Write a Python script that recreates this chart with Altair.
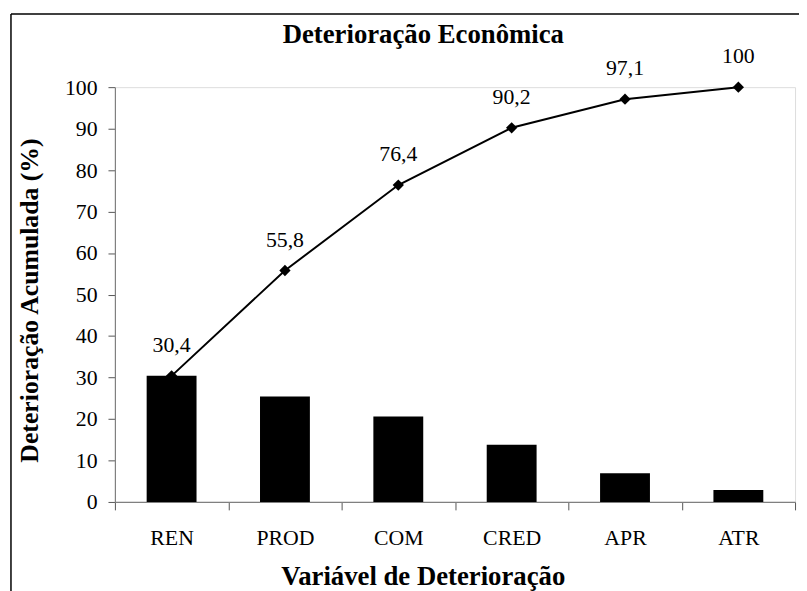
import altair as alt
import pandas as pd

categories = ["REN", "PROD", "COM", "CRED", "APR", "ATR"]
share = [30.4, 25.4, 20.6, 13.8, 6.9, 2.9]
cumulative = [30.4, 55.8, 76.4, 90.2, 97.1, 100.0]
point_labels = ["30,4", "55,8", "76,4", "90,2", "97,1", "100"]
y_ticks = [0, 10, 20, 30, 40, 50, 60, 70, 80, 90, 100]

df = pd.DataFrame({"cat": categories, "share": share, "cum": cumulative, "label": point_labels})

FONT = "Liberation Serif"

x_axis = alt.Axis(
    title="Variável de Deterioração",
    titleFont=FONT, titleFontSize=27, titleFontWeight="bold", titleColor="black",
    titleX=311, titleY=83, titleBaseline="alphabetic", titleAnchor="start", titleAlign="center",
    labelAngle=0, labelFont=FONT, labelFontSize=22, labelColor="black", labelPadding=18,
    tickBand="extent", tickSize=8, tickColor="#555555",
    domainColor="#808080", domainWidth=1.2, grid=False,
)

y_axis = alt.Axis(
    title="Deterioração Acumulada (%)",
    titleFont=FONT, titleFontSize=26, titleFontWeight="bold", titleColor="black",
    titleAngle=270, titleX=-78, titleY=215, titleBaseline="alphabetic", titleAlign="center",
    titleAnchor="start",
    values=y_ticks, labelFont=FONT, labelFontSize=22, labelColor="black", labelPadding=11,
    tickSize=7, tickColor="#555555", domainColor="#808080", domainWidth=1.2, grid=False,
)

y_scale = alt.Scale(domain=[0, 100], nice=False)
x_scale = alt.Scale(paddingInner=0, paddingOuter=0)

x_enc = alt.X("cat:N", sort=categories, scale=x_scale, axis=x_axis)

bars = alt.Chart(df).mark_bar(color="black", width=alt.RelativeBandSize(0.44)).encode(
    x=x_enc, y=alt.Y("share:Q", scale=y_scale, axis=y_axis)
)

line = alt.Chart(df).mark_line(color="black", strokeWidth=2).encode(
    x=x_enc,
    y=alt.Y("cum:Q", scale=y_scale, axis=y_axis),
)

points = alt.Chart(df).mark_point(shape="diamond", filled=True, color="black", size=130, opacity=1).encode(
    x=x_enc,
    y=alt.Y("cum:Q", scale=y_scale, axis=y_axis),
)

texts = alt.Chart(df).mark_text(font=FONT, fontSize=22, color="black", dy=-24, baseline="alphabetic").encode(
    x=x_enc,
    y=alt.Y("cum:Q", scale=y_scale, axis=y_axis),
    text="label:N",
)

frame_v = alt.Chart(alt.Data(values=[{}])).mark_rule(color="black", strokeWidth=1.5).encode(
    x=alt.value(-105), y=alt.value(-74), y2=alt.value(700)
)
frame_h = alt.Chart(alt.Data(values=[{}])).mark_rule(color="black", strokeWidth=1.5).encode(
    x=alt.value(-105), x2=alt.value(800), y=alt.value(-74)
)

chart = alt.layer(bars, line, points, texts, frame_v, frame_h).properties(
    width=687,
    height=419,
    autosize=alt.AutoSizeParams(type="none"),
    padding={"left": 108, "top": 77, "right": 4, "bottom": 87},
    title=alt.TitleParams(
        "Deterioração Econômica", font=FONT, fontSize=27, fontWeight="bold", color="black",
        anchor="middle", frame="group", dx=-32, offset=0, dy=57, baseline="alphabetic",
    ),
).configure_view(strokeWidth=0).configure(background="white")

chart.save("out.html", embed_options={"renderer": "svg", "actions": False})
